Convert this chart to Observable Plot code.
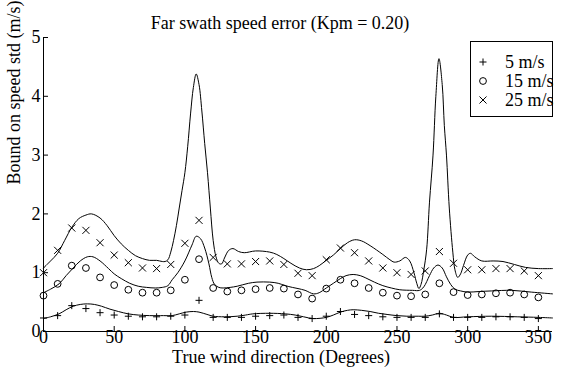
<!DOCTYPE html>
<html><head><meta charset="utf-8">
<script src="https://cdn.jsdelivr.net/npm/d3@7"></script>
<script src="https://cdn.jsdelivr.net/npm/@observablehq/plot@0.6"></script>
<style>
body{margin:0;background:#fff;font-family:"Liberation Serif",Times,"Times New Roman","DejaVu Serif",serif;}
#wrap{position:relative;width:561px;height:377px;}
#wrap svg text{font-family:"Liberation Serif",Times,"Times New Roman","DejaVu Serif",serif !important;}
#legend{position:absolute;left:470px;top:41px;width:83px;height:76px;border:1.3px solid #000;box-sizing:border-box;background:#fff;font-size:18px;color:#000;}
.row{position:absolute;left:0;height:20px;width:100%;}
.row svg{position:absolute;left:6px;top:4px;}
.row span{position:absolute;left:34px;top:0;line-height:20px;white-space:nowrap;}
</style></head>
<body><div id="wrap"></div>
<script>
// Marker sample directions (degrees)
const directions = [0,10,20,30,40,50,60,70,80,90,100,110,120,130,140,150,160,170,180,190,200,210,220,230,240,250,260,270,280,290,300,310,320,330,340,350];
// Marker values (m/s)
const speed5 = [0.23,0.27,0.44,0.39,0.32,0.28,0.26,0.25,0.25,0.26, 0.28,0.53,0.24,0.24,0.24,0.26,0.27,0.28,0.24,0.22, 0.26,0.34,0.29,0.27,0.25,0.24,0.24,0.24,0.30,0.24, 0.24,0.24,0.25,0.25,0.24,0.22];
const speed15 = [0.61,0.81,1.12,1.08,0.92,0.79,0.71,0.66,0.66,0.70, 0.88,1.23,0.74,0.68,0.70,0.72,0.74,0.73,0.63,0.56, 0.73,0.88,0.82,0.74,0.66,0.61,0.60,0.63,0.82,0.67, 0.62,0.63,0.65,0.66,0.63,0.58];
const speed25 = [1.00,1.38,1.76,1.72,1.51,1.30,1.17,1.08,1.07,1.14, 1.50,1.89,1.26,1.15,1.15,1.19,1.20,1.14,0.99,0.95, 1.22,1.42,1.34,1.20,1.08,1.00,0.97,1.03,1.36,1.16, 1.05,1.05,1.07,1.07,1.03,0.95];

// Bound curves [direction, value]
const bound5 = [[0,0.22],[5,0.25],[11,0.30],[16,0.37],[21,0.43],[26,0.46],[31,0.47],[36,0.46],[41,0.43],[47,0.38],[53,0.34],[60,0.30],[67,0.28],[75,0.27],[85,0.27],[91,0.27],[96,0.30],[101,0.33],[106,0.34],[110,0.33],[113,0.31],[117,0.28],[120,0.26],[128,0.25],[137,0.26],[143,0.28],[148,0.30],[160,0.31],[171,0.30],[178,0.28],[184,0.25],[191,0.22],[200,0.24],[205,0.28],[210,0.33],[215,0.36],[219,0.37],[225,0.36],[231,0.34],[237,0.31],[243,0.29],[250,0.27],[257,0.26],[265,0.26],[270,0.26],[275,0.28],[280,0.31],[285,0.28],[290,0.24],[300,0.25],[317,0.26],[335,0.25],[350,0.24],[360,0.23]];
const bound15 = [[0,0.66],[5,0.72],[11,0.81],[16,0.95],[21,1.08],[26,1.20],[31,1.27],[35,1.27],[40,1.20],[46,1.07],[50,0.98],[55,0.90],[61,0.82],[67,0.77],[73,0.75],[79,0.74],[84,0.75],[88,0.78],[91,0.88],[95,1.00],[100,1.20],[105,1.47],[108,1.62],[111,1.58],[114,1.42],[117,1.15],[119,0.92],[121,0.80],[124,0.75],[127,0.74],[132,0.75],[137,0.77],[145,0.82],[151,0.84],[160,0.84],[166,0.82],[171,0.78],[176,0.75],[180,0.73],[185,0.70],[191,0.64],[195,0.66],[200,0.74],[205,0.82],[210,0.90],[214,0.95],[219,0.97],[224,0.95],[228,0.91],[234,0.84],[240,0.78],[246,0.74],[252,0.71],[261,0.70],[266,0.70],[269,0.76],[273,0.95],[276,1.08],[279,1.13],[282,1.08],[285,0.93],[288,0.80],[291,0.72],[295,0.69],[300,0.67],[308,0.68],[317,0.69],[331,0.70],[345,0.67],[360,0.64]];
const bound25 = [[0,1.08],[5,1.20],[10,1.33],[15,1.55],[20,1.77],[25,1.92],[30,1.98],[34,2.00],[40,1.93],[45,1.80],[50,1.63],[55,1.49],[60,1.38],[65,1.29],[70,1.24],[75,1.21],[80,1.21],[84,1.19],[86,1.19],[88,1.22],[90,1.35],[92,1.55],[94,1.80],[96,2.10],[98,2.40],[100,2.70],[102,3.15],[104,3.70],[106,4.15],[108,4.38],[110,4.20],[112,3.75],[114,3.20],[116,2.70],[118,2.10],[120,1.55],[122,1.27],[124,1.16],[126,1.15],[128,1.25],[131,1.38],[134,1.41],[138,1.36],[142,1.34],[150,1.37],[160,1.35],[165,1.31],[170,1.24],[175,1.16],[181,1.08],[186,1.05],[191,1.07],[195,1.12],[200,1.21],[205,1.30],[210,1.41],[215,1.51],[220,1.56],[225,1.54],[231,1.46],[240,1.31],[245,1.22],[248,1.18],[252,1.20],[256,1.26],[259,1.20],[262,1.00],[264,0.82],[265.5,0.73],[267,0.80],[269,1.05],[271,1.40],[273,2.20],[275.5,3.00],[277.5,4.00],[279.7,4.64],[282,4.20],[283.5,3.50],[285,3.00],[287,2.10],[289.5,1.35],[291,1.05],[293,0.92],[295,0.98],[297,1.12],[300,1.30],[302,1.33],[305,1.27],[310,1.20],[318,1.20],[325,1.19],[333,1.14],[341,1.09],[350,1.07],[360,1.07]];

const xTicks = [0,50,100,150,200,250,300,350];
const yTicks = [0,1,2,3,4,5];
const seriesNames = ["5 m/s","15 m/s","25 m/s"];

const W = 561, H = 377, mL = 43, mR = 9, mT = 37, mB = 46;
const frameW = W - mL - mR, frameH = H - mT - mB;
const tickLen = 5;
const serif = "Liberation Serif";

const pts = (vals) => directions.map((d, i) => ({x: d, y: vals[i]}));
const curve = (arr) => arr.map(([x, y]) => ({x, y}));

const chart = Plot.plot({
  width: W, height: H,
  marginLeft: mL, marginRight: mR, marginTop: mT, marginBottom: mB,
  style: {fontFamily: serif, fontSize: "18px", background: "white", color: "black", overflow: "visible"},
  x: {domain: [0, 360]},
  y: {domain: [0, 5]},
  marks: [
    Plot.axisX({ticks: xTicks, tickSize: 0, tickPadding: -1, label: null, fontSize: 18, tickFormat: d3.format("d")}),
    Plot.axisY({ticks: yTicks, tickSize: 0, tickPadding: 3, label: null, fontSize: 18, tickFormat: d3.format("d")}),
    Plot.tickX(xTicks, {x: d => d, insetTop: frameH - tickLen, stroke: "black"}),
    Plot.tickY(yTicks, {y: d => d, insetRight: frameW - tickLen, stroke: "black"}),
    Plot.ruleX([0], {stroke: "black"}),
    Plot.ruleY([0], {stroke: "black"}),
    Plot.line(curve(bound5), {x: "x", y: "y", curve: "catmull-rom", stroke: "black", strokeWidth: 1}),
    Plot.line(curve(bound15), {x: "x", y: "y", curve: "catmull-rom", stroke: "black", strokeWidth: 1}),
    Plot.line(curve(bound25), {x: "x", y: "y", curve: "catmull-rom", stroke: "black", strokeWidth: 1}),
    Plot.dot(pts(speed5), {x: "x", y: "y", symbol: "plus", r: 2.4, stroke: "black", strokeWidth: 1}),
    Plot.dot(pts(speed15), {x: "x", y: "y", symbol: "circle", r: 3.4, stroke: "black", strokeWidth: 1, fill: "none"}),
    Plot.dot(pts(speed25), {x: "x", y: "y", symbol: "times", r: 3.3, stroke: "black", strokeWidth: 1}),
    Plot.text(["Far swath speed error (Kpm = 0.20)"], {frameAnchor: "top", dy: -21, dx: -18, fontSize: 18, fontFamily: serif}),
    Plot.text(["True wind direction (Degrees)"], {frameAnchor: "bottom", dy: 31, dx: -17, fontSize: 18, fontFamily: serif}),
    Plot.text(["Bound on speed std (m/s)"], {frameAnchor: "left", dx: -29, rotate: -90, fontSize: 18, fontFamily: serif})
  ]
});
const wrap = document.getElementById("wrap");
wrap.appendChild(chart);

// Legend
const legend = document.createElement("div");
legend.id = "legend";
const symbols = [d3.symbolPlus, d3.symbolCircle, d3.symbolTimes];
const sizes = [Math.PI*2.4*2.4, Math.PI*3.4*3.4, Math.PI*3.3*3.3];
seriesNames.forEach((name, i) => {
  const row = document.createElement("div");
  row.className = "row";
  row.style.top = (10 + 19 * i) + "px";
  const svg = d3.create("svg").attr("width", 12).attr("height", 12);
  svg.append("path").attr("transform", "translate(6,6)")
    .attr("d", d3.symbol(symbols[i], sizes[i])())
    .attr("fill", "none").attr("stroke", "black").attr("stroke-width", 1);
  row.appendChild(svg.node());
  const span = document.createElement("span");
  span.textContent = name;
  row.appendChild(span);
  legend.appendChild(row);
});
wrap.appendChild(legend);
</script>
</body></html>
